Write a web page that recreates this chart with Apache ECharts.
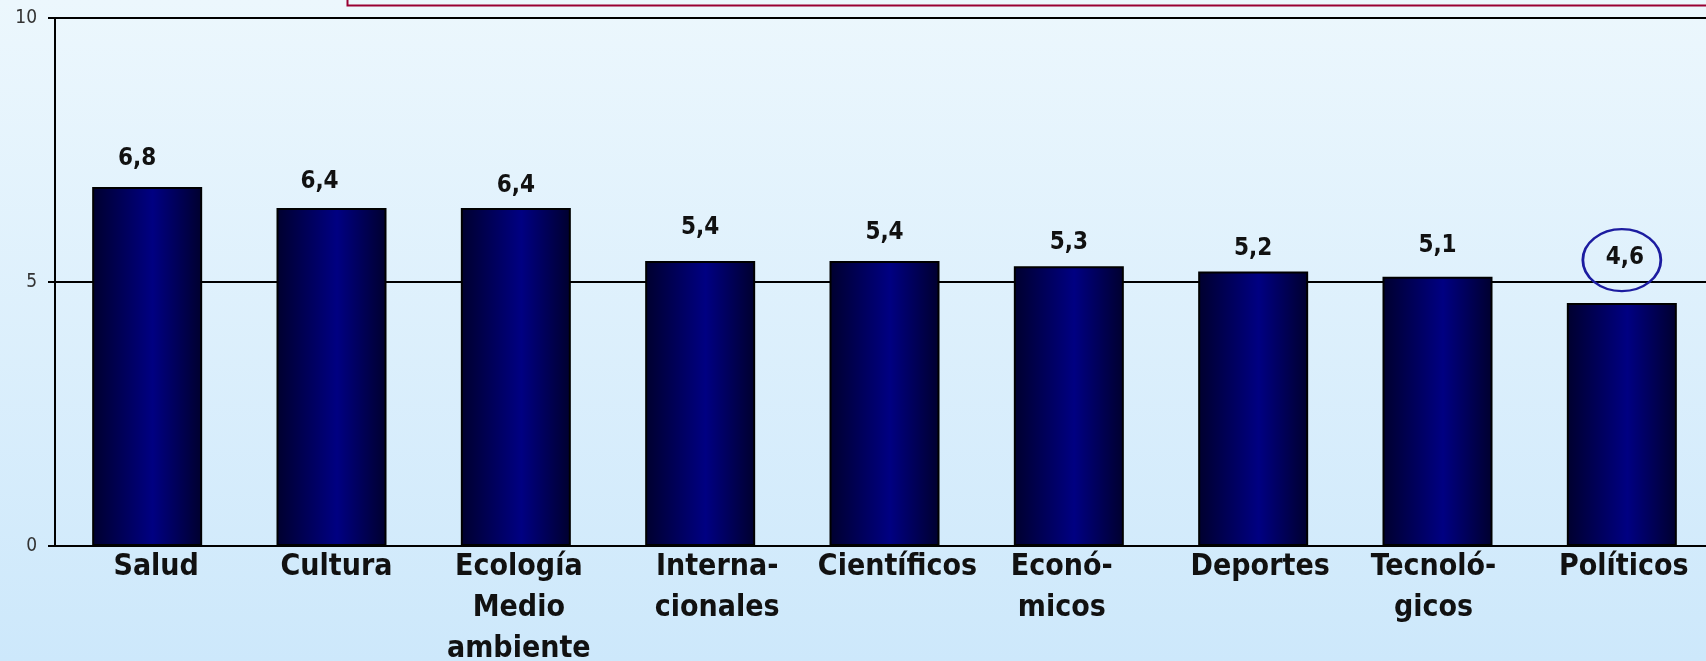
<!DOCTYPE html>
<html>
<head>
<meta charset="utf-8">
<script src="https://cdn.jsdelivr.net/npm/echarts@6/dist/echarts.min.js"></script>
<style>
  html, body { margin: 0; padding: 0; }
  #chart {
    width: 1706px; height: 661px;
    background: linear-gradient(to bottom, #ecf7fd 0%, #cde8fb 100%);
  }
</style>
</head>
<body>
<div id="chart"></div>
<script>
// datos
var categorias = ['Salud', 'Cultura', 'Ecología\nMedio\nambiente', 'Interna-\ncionales', 'Científicos',
  'Econó-\nmicos', 'Deportes', 'Tecnoló-\ngicos', 'Políticos'];
var valores = [6.8, 6.4, 6.4, 5.4, 5.4, 5.3, 5.2, 5.1, 4.6];
var yTicks = [0, 5, 10];
var destacado = 8; // el valor en el circulo (Políticos)

// ajustes a mano (en el original las etiquetas estan movidas)
var labelNudge = [[-10, 0], [-12, 2], [0, 6], [0, -5], [0, 0], [0, 5], [0, 5], [0, -3], [3, -17]];
var catNudge = [9, 5, 3, 17, 13, -7, 7, -4, 2];

var chart = echarts.init(document.getElementById('chart'));

var barColor = new echarts.graphic.LinearGradient(0, 0, 1, 0, [
  { offset: 0, color: '#00002e' },
  { offset: 0.55, color: '#000082' },
  { offset: 1, color: '#00002e' }
]);

var serieData = valores.map(function (v, i) {
  return { value: v, label: { offset: labelNudge[i] } };
});

var catData = categorias.map(function (c, i) {
  var dx = catNudge[i];
  // padding a un lado para correr el texto centrado
  var pad = dx >= 0 ? [0, 0, 0, 2 * dx] : [0, -2 * dx, 0, 0];
  return { value: c, textStyle: { padding: pad } };
});

var option = {
  animation: false,
  grid: {
    left: 55,
    top: 18,
    width: 1659,
    height: 528,
    containLabel: false,
    outerBoundsMode: 'none'
  },
  xAxis: {
    type: 'category',
    data: catData,
    axisLine: { lineStyle: { color: '#000', width: 2 } },
    axisTick: { show: false },
    axisLabel: {
      interval: 0,
      margin: 1,
      fontFamily: 'DejaVu Sans Condensed',
      fontWeight: 'bold',
      fontSize: 30,
      lineHeight: 41,
      color: '#111',
      align: 'center'
    }
  },
  yAxis: {
    type: 'value',
    min: yTicks[0],
    max: yTicks[yTicks.length - 1],
    interval: 5,
    axisLine: { show: true, lineStyle: { color: '#000', width: 2 } },
    axisTick: { show: true, length: 7, lineStyle: { color: '#000', width: 2 } },
    axisLabel: {
      margin: 18,
      fontFamily: 'DejaVu Sans Condensed',
      fontSize: 19,
      color: '#333'
    },
    splitLine: { show: true, lineStyle: { color: '#000', width: 2 } }
  },
  series: [
    {
      type: 'bar',
      data: serieData,
      barWidth: 110,
      itemStyle: {
        color: barColor,
        borderColor: '#000',
        borderWidth: 2
      },
      label: {
        show: true,
        position: 'top',
        distance: 16,
        fontFamily: 'DejaVu Sans Condensed',
        fontWeight: 'bold',
        fontSize: 24,
        color: '#111',
        formatter: function (p) {
          return String(p.value).replace('.', ',');
        }
      },
      markPoint: {
        silent: true,
        symbol: 'circle',
        symbolSize: [78, 62],
        symbolOffset: [0, -43],
        itemStyle: {
          color: 'rgba(0,0,0,0)',
          borderColor: '#1c1ca0',
          borderWidth: 2.5
        },
        label: { show: false },
        data: [{ coord: [destacado, valores[destacado]] }]
      }
    }
  ],
  graphic: [
    {
      // recuadro rojo cortado arriba
      type: 'rect',
      left: 345,
      top: -12,
      shape: { width: 1420, height: 15 },
      style: { fill: 'none', stroke: '#990033', lineWidth: 2 }
    }
  ]
};

chart.setOption(option);
</script>
</body>
</html>
